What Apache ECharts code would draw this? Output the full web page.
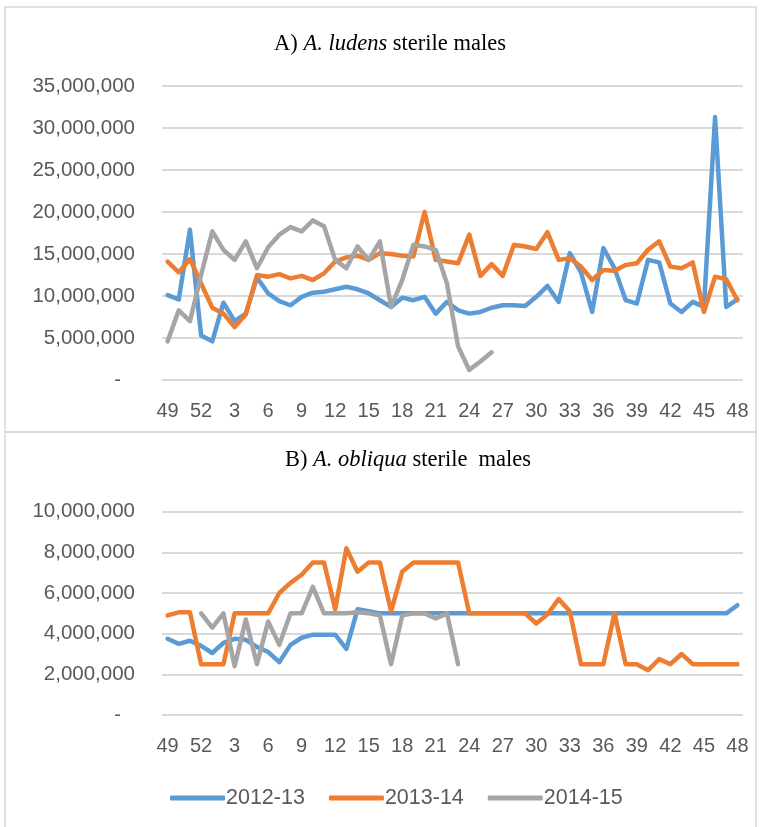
<!DOCTYPE html>
<html><head><meta charset="utf-8">
<script src="https://cdn.jsdelivr.net/npm/echarts@6/dist/echarts.min.js"></script>
<style>html,body{margin:0;padding:0;background:#fff}#c{width:762px;height:827px}</style>
</head><body><div id="c"></div>
<script>
// Week categories (49 of previous year through 48)
const weeks = ['49','50','51','52','1','2','3','4','5','6','7','8','9','10','11','12','13','14','15','16','17','18','19','20','21','22','23','24','25','26','27','28','29','30','31','32','33','34','35','36','37','38','39','40','41','42','43','44','45','46','47','48'];
const seriesNames = ['2012-13','2013-14','2014-15'];

// A) A. ludens sterile males (millions)
const ludens2012 = [10.1,9.6,17.9,5.3,4.6,9.2,7.0,7.9,12.2,10.3,9.4,8.9,9.9,10.4,10.5,10.8,11.1,10.8,10.3,9.5,8.7,9.8,9.5,9.9,7.9,9.3,8.3,7.9,8.1,8.6,8.9,8.9,8.8,9.9,11.2,9.3,15.1,12.8,8.1,15.7,13.3,9.5,9.1,14.3,14.0,9.1,8.1,9.3,8.7,31.3,8.7,9.6];
const ludens2013 = [14.1,12.8,14.4,11.5,8.6,7.9,6.3,7.8,12.5,12.3,12.6,12.1,12.4,11.9,12.7,14.1,14.6,14.8,14.3,15.1,15.0,14.8,14.7,20.0,14.3,14.1,13.9,17.3,12.4,13.8,12.4,16.1,15.9,15.6,17.6,14.3,14.5,13.5,11.9,13.1,13.0,13.7,13.9,15.5,16.5,13.5,13.3,14.0,8.1,12.3,12.0,9.5];
const ludens2014 = [4.6,8.3,7.0,12.5,17.7,15.5,14.3,16.5,13.3,15.8,17.3,18.2,17.7,19.0,18.3,14.3,13.3,15.9,14.3,16.5,8.7,11.9,16.1,15.9,15.5,11.5,4.0,1.2,2.2,3.3,null,null,null,null,null,null,null,null,null,null,null,null,null,null,null,null,null,null,null,null,null,null];

// B) A. obliqua sterile males (millions)
const obliqua2012 = [3.75,3.5,3.65,3.4,3.05,3.55,3.75,3.7,3.35,3.1,2.6,3.45,3.8,3.95,3.95,3.95,3.25,5.2,5.1,5.0,5.0,5.0,5.0,5.0,5.0,5.0,5.0,5.0,5.0,5.0,5.0,5.0,5.0,5.0,5.0,5.0,5.0,5.0,5.0,5.0,5.0,5.0,5.0,5.0,5.0,5.0,5.0,5.0,5.0,5.0,5.0,5.4];
const obliqua2013 = [4.9,5.05,5.05,2.5,2.5,2.5,5.0,5.0,5.0,5.0,6.0,6.5,6.9,7.5,7.5,5.2,8.2,7.05,7.5,7.5,5.1,7.05,7.5,7.5,7.5,7.5,7.5,5.0,5.0,5.0,5.0,5.0,5.0,4.5,4.95,5.7,5.1,2.5,2.5,2.5,5.0,2.5,2.5,2.2,2.75,2.5,3.0,2.5,2.5,2.5,2.5,2.5];
const obliqua2014 = [null,null,null,5.0,4.3,5.0,2.4,4.7,2.5,4.6,3.45,5.0,5.0,6.3,5.0,5.0,5.0,5.05,5.0,4.9,2.5,4.9,5.0,5.0,4.75,5.0,2.5,null,null,null,null,null,null,null,null,null,null,null,null,null,null,null,null,null,null,null,null,null,null,null,null,null];

const colors = ['#5B9BD5','#ED7D31','#A5A5A5'];
const labelFont = 'Liberation Sans';
const labelColor = '#595959';
const gridColor = '#D9D9D9';

function yFmt(v){ return v === 0 ? '{d|-}' : (v*1000000).toLocaleString('en-US'); }

function xAxis(gi){
  return {type:'category', gridIndex:gi, data:weeks, boundaryGap:true,
    axisLine:{show:false}, axisTick:{show:false},
    axisLabel:{interval:2, margin:21, fontFamily:labelFont, fontSize:20, color:labelColor},
    splitLine:{show:false}};
}
function yAxis(gi,max,intv){
  return {type:'value', gridIndex:gi, min:0, max:max, interval:intv,
    axisLine:{show:false}, axisTick:{show:false},
    axisLabel:{formatter:yFmt, margin:27, fontFamily:labelFont, fontSize:20.5, color:labelColor,
      rich:{d:{fontFamily:labelFont, fontSize:20, color:labelColor, padding:[0,14,0,0]}}},
    splitLine:{show:true, lineStyle:{color:gridColor, width:2}}};
}
function line(name, data, gi, ci){
  return {name:name, type:'line', xAxisIndex:gi, yAxisIndex:gi, data:data,
    symbol:'none', showSymbol:false, smooth:false, connectNulls:false,
    lineStyle:{color:colors[ci], width:4.5, cap:'round', join:'round'},
    itemStyle:{color:colors[ci]}, emphasis:{disabled:true}, animation:false};
}

const titleRich = {
  n:{fontFamily:'Liberation Serif', fontSize:22.5, color:'#404040'},
  i:{fontFamily:'Liberation Serif', fontSize:22.5, color:'#404040', fontStyle:'italic'}
};

const chart = echarts.init(document.getElementById('c'), null, {renderer:'canvas'});
chart.setOption({
  backgroundColor:'#ffffff',
  animation:false,
  color:colors,
  grid:[
    {left:162, right:19, top:86, height:294},
    {left:162, right:19, top:511.7, height:203.3}
  ],
  xAxis:[xAxis(0), xAxis(1)],
  yAxis:[yAxis(0,35,5), yAxis(1,10,2)],
  legend:{show:true, data:seriesNames, left:165, top:782, itemGap:24, itemWidth:55, itemHeight:5,
    icon:'roundRect', textStyle:{fontFamily:labelFont, fontSize:21.5, color:labelColor, padding:[0,0,0,-4]}},
  graphic:[
    {type:'rect', shape:{x:5, y:7, width:751, height:425}, style:{fill:'none', stroke:'#D9D9D9', lineWidth:1.5}, silent:true},
    {type:'rect', shape:{x:5, y:432, width:751, height:400}, style:{fill:'none', stroke:'#D9D9D9', lineWidth:1.5}, silent:true},
    {type:'text', x:390, y:44, style:{text:'{n|A) }{i|A. ludens}{n| sterile males}', rich:titleRich,
      textAlign:'center', align:'center', textVerticalAlign:'middle', verticalAlign:'middle'}, silent:true},
    {type:'text', x:408, y:460, style:{text:'{n|B) }{i|A. obliqua}{n| sterile  males}', rich:titleRich,
      textAlign:'center', align:'center', textVerticalAlign:'middle', verticalAlign:'middle'}, silent:true}
  ],
  series:[
    line(seriesNames[0], ludens2012, 0, 0),
    line(seriesNames[1], ludens2013, 0, 1),
    line(seriesNames[2], ludens2014, 0, 2),
    line(seriesNames[0], obliqua2012, 1, 0),
    line(seriesNames[1], obliqua2013, 1, 1),
    line(seriesNames[2], obliqua2014, 1, 2)
  ]
});
</script>
</body></html>
